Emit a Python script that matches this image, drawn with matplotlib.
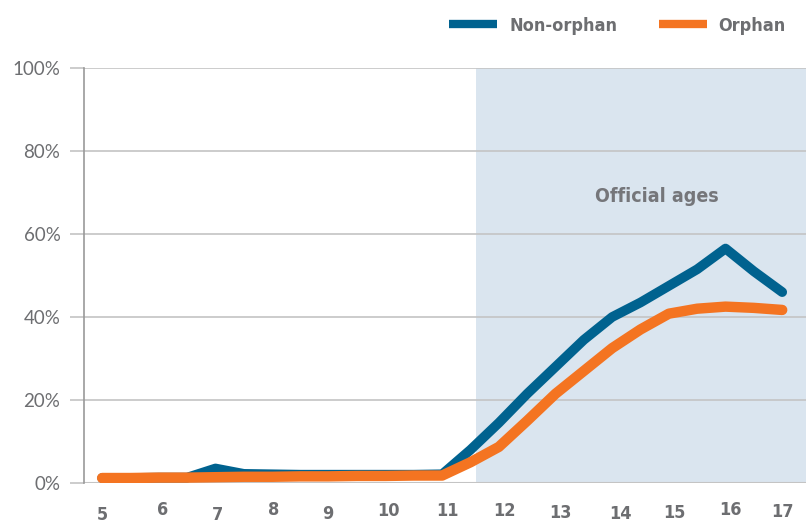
import matplotlib
matplotlib.use("Agg")
import matplotlib.pyplot as plt
from matplotlib.transforms import offset_copy

# ages (half-year steps) and share in percent
ages = [5, 5.5, 6, 6.5, 7, 7.5, 8, 8.5, 9, 9.5, 10, 10.5, 11,
        11.5, 12, 12.5, 13, 13.5, 14, 14.5, 15, 15.5, 16, 16.5, 17]
non_orphan = [1.2, 1.2, 1.3, 1.3, 3.5, 2.2, 2.1, 2.0, 2.0, 2.0, 2.0, 2.0, 2.1,
              8.0, 14.5, 21.5, 28.0, 34.5, 40.0, 43.5, 47.5, 51.5, 56.5, 51.0, 46.0]
orphan = [1.2, 1.2, 1.3, 1.3, 1.4, 1.5, 1.5, 1.6, 1.6, 1.7, 1.7, 1.8, 1.8,
          5.0, 8.7, 15.0, 21.5, 27.0, 32.5, 37.0, 40.8, 42.0, 42.5, 42.2, 41.7]

tick_ages = [5, 6, 7, 8, 9, 10, 11, 12, 13, 14, 15, 16, 17]
y_ticks = [0, 20, 40, 60, 80, 100]
official_start = 11.6

# small hand-placed look of the age labels (pixel nudges)
label_dx = [0, 4, 2, 1, -1, 3, 5, 6, 5, 8, 6, 5, 0]
label_dy = [-3, 2, -3, 2, -2, 1, 1, 1, -1, -2, -1, 2, 0]

blue = "#00628f"
orange = "#f47421"
grey = "#6d6e71"
cond = dict(family="DejaVu Sans", fontstretch="condensed", fontweight="bold")

fig = plt.figure(figsize=(8.06, 5.23), dpi=100)
ax = fig.add_axes([84 / 806, 1 - 483 / 523, 1 - 84 / 806, (483 - 68) / 523])

ax.axvspan(official_start, 17.42, color="#dae5ef", zorder=0, lw=0)
for y in y_ticks[1:]:
    ax.axhline(y, color="#c4c4c4", lw=1.2, zorder=1)

ax.plot(ages, non_orphan, color=blue, lw=7, solid_capstyle="round",
        solid_joinstyle="round", zorder=3, label="Non-orphan")
ax.plot(ages, orphan, color=orange, lw=7.5, solid_capstyle="round",
        solid_joinstyle="round", zorder=4, label="Orphan")

ax.set_xlim(4.68, 17.42)
ax.set_ylim(0, 100)
ax.set_yticks(y_ticks)
ax.set_yticklabels([f"{v}%" for v in y_ticks], family="Lato", fontsize=13.5, color=grey)
ax.tick_params(axis="y", length=10, width=1.2, color="#c4c4c4", pad=7)
ax.set_xticks([])

for s in ["top", "right", "bottom"]:
    ax.spines[s].set_visible(False)
ax.spines["left"].set_color("#999999")
ax.spines["left"].set_linewidth(1.2)
ax.axhline(0, color="#c4c4c4", lw=1.5, zorder=2)

for a, dx, dy in zip(tick_ages, label_dx, label_dy):
    tr = offset_copy(ax.get_xaxis_transform(), fig=fig, x=dx * 0.72, y=dy * 0.72, units="points")
    ax.text(a, -0.07, str(a), transform=tr, ha="center", va="center",
            fontsize=13, color=grey, **cond)

ax.text(14.79, 69, "Official ages", ha="center", va="center",
        fontsize=14, color="#75767a", zorder=5, **cond)

leg = ax.legend(loc="upper right", bbox_to_anchor=(0.972, 1.124), ncol=2, frameon=False,
                handlelength=2.67, columnspacing=2.3, handletextpad=0.65,
                borderpad=0, borderaxespad=0,
                prop={"family": "DejaVu Sans", "stretch": "condensed", "weight": "bold", "size": 13})
for t in leg.get_texts():
    t.set_color(grey)
for h in leg.get_lines():
    h.set_linewidth(6)
    h.set_solid_capstyle("butt")

fig.savefig("out.png", dpi=100)
